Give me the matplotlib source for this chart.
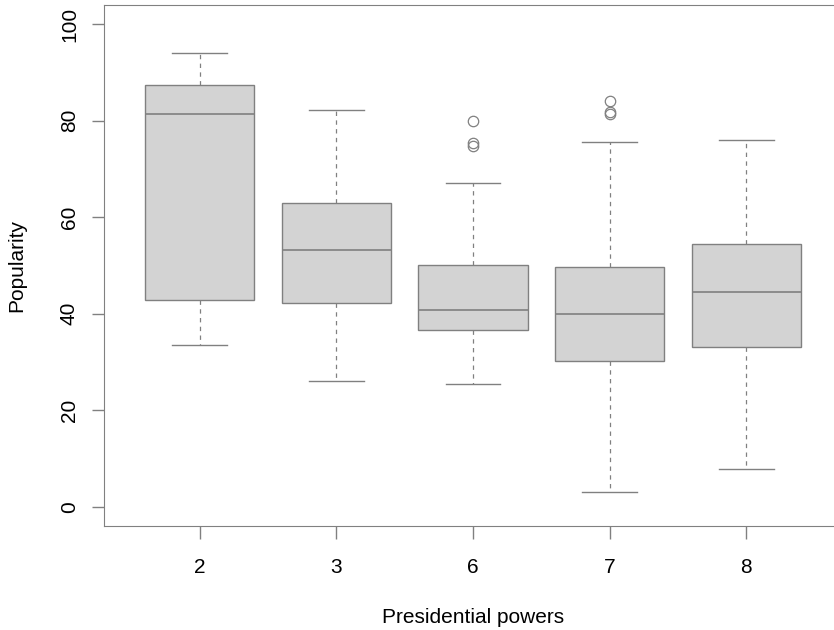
import matplotlib.pyplot as plt

# values
groups = ['2', '3', '6', '7', '8']
whisker_low = [33.6, 26.0, 25.4, 3.0, 7.9]
q1 = [42.9, 42.2, 36.7, 30.3, 33.0]
medians = [81.4, 53.3, 40.7, 39.9, 44.5]
q3 = [87.4, 62.9, 50.1, 49.7, 54.5]
whisker_high = [94.0, 82.3, 67.1, 75.7, 76.1]
outliers = [[], [], [80.0, 75.3, 74.8], [84.1, 81.8, 81.4], []]

plt.rcParams['font.family'] = ['Liberation Sans', 'DejaVu Sans']

stats = []
for i, g in enumerate(groups):
    stats.append({
        'label': g,
        'whislo': whisker_low[i],
        'q1': q1[i],
        'med': medians[i],
        'q3': q3[i],
        'whishi': whisker_high[i],
        'fliers': outliers[i],
    })

line_col = '#808080'
fig = plt.figure(figsize=(8.34, 6.3), dpi=100)
ax = fig.add_axes([0.1247, 0.1651, 0.8849, 0.8270])

ax.bxp(stats, positions=range(1, len(groups) + 1), widths=0.8,
       patch_artist=True, showfliers=True,
       boxprops=dict(facecolor='#D3D3D3', edgecolor=line_col, linewidth=1.0),
       medianprops=dict(color=line_col, linewidth=1.2),
       whiskerprops=dict(color=line_col, linewidth=0.9, linestyle=(0, (3.5, 3.5))),
       capprops=dict(color=line_col, linewidth=1.0),
       capwidths=0.4,
       flierprops=dict(marker='o', markerfacecolor='none', markeredgecolor=line_col,
                       markersize=7.5, markeredgewidth=0.9))

ax.set_xlim(0.3, 5.7)
ax.set_ylim(-4, 104)
ax.set_yticks([0, 20, 40, 60, 80, 100])
ax.set_xticks(range(1, len(groups) + 1))
ax.set_xticklabels(groups)

for s in ax.spines.values():
    s.set_color(line_col)
ax.tick_params(axis='both', colors=line_col, labelcolor='black', labelsize=15,
               length=9, width=1.0)
ax.tick_params(axis='x', pad=14)
ax.tick_params(axis='y', pad=9)
for lab in ax.get_yticklabels():
    lab.set_rotation(90)
    lab.set_va('center')

ax.set_xlabel('Presidential powers', fontsize=15)
ax.set_ylabel('Popularity', fontsize=15)
ax.xaxis.set_label_coords(0.5, -0.158)
ax.yaxis.set_label_coords(-0.106, 0.5)

fig.savefig('out.png', dpi=100)
